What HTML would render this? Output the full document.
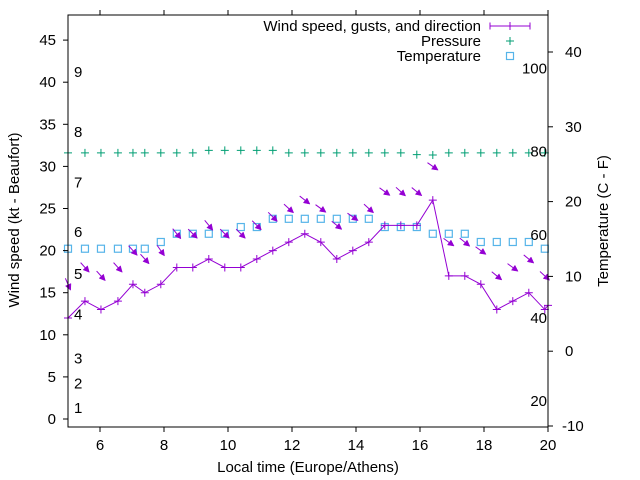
<!DOCTYPE html>
<html><head><meta charset="utf-8"><style>
html,body{margin:0;padding:0;background:#fff;}
svg{display:block;font-family:"Liberation Sans",sans-serif;}
</style></head><body>
<svg id="chart" width="640" height="480" viewBox="0 0 640 480" xmlns="http://www.w3.org/2000/svg">
<rect x="0" y="0" width="640" height="480" fill="#fff"/>
<g id="marks"></g>
<g id="axes"></g>
</svg>
<script>
// ---- data ----
const windTimes = [5,5.53,6.03,6.56,7.03,7.4,7.9,8.4,8.9,9.4,9.9,10.4,10.9,11.4,11.9,12.4,12.9,13.4,13.9,14.4,14.9,15.4,15.9,16.4,16.9,17.4,17.9,18.4,18.9,19.4,19.9,20];
const windSpeed = [12,14,13,14,16,15,16,18,18,19,18,18,19,20,21,22,21,19,20,21,23,23,23,26,17,17,16,13,14,15,13,13.5];
const gustSpeed = [16,18,17,18,20,19,20,22,22,23,22,22,23,24,25,26,25,23,24,25,27,27,27,30,21,21,20,17,18,19,17];
const windDir = [336,318,318,318,318,318,325,321,315,321,315,315,315,315,312,308,306,309,305,312,306,312,309,305,306,309,306,309,306,309,312];
const temperature = [13.7,13.7,13.7,13.7,13.7,13.7,14.6,15.7,15.7,15.7,15.7,16.6,16.6,17.7,17.7,17.7,17.7,17.7,17.7,17.7,16.6,16.6,16.6,15.7,15.7,15.7,14.6,14.6,14.6,14.6,13.7];
const pressure = [31.6,31.6,31.6,31.6,31.6,31.6,31.6,31.6,31.6,31.9,31.9,31.9,31.9,31.9,31.6,31.6,31.6,31.6,31.6,31.6,31.6,31.6,31.4,31.35,31.6,31.6,31.6,31.6,31.6,31.6,31.6];
const xTicks = [6,8,10,12,14,16,18,20];
const yTicks = [0,5,10,15,20,25,30,35,40,45];
const y2Ticks = [-10,0,10,20,30,40];
const beaufortLabels = ["1","2","3","4","5","6","7","8","9"];
const beaufortAt = [1.3,4.2,7.2,12.4,17.2,22.2,28.1,34.1,41.2];
const fahrenheitLabels = [20,40,60,80,100];

// ---- scales ----
const L=68,R=548,T=15,B=427;
const X = t => L + (t-5)*32;
const Y = v => 419 - v*8.42;
const Y2 = c => 426 - (c+10)*7.48;
const F2C = f => (f-32)*5/9;

const NS="http://www.w3.org/2000/svg";
const marks=document.getElementById('marks');
const axes=document.getElementById('axes');
function mk(tag,attrs,parent){const e=document.createElementNS(NS,tag);for(const k in attrs)e.setAttribute(k,attrs[k]);parent.appendChild(e);return e;}
const PURPLE="#9400d3",GREEN="#009e73",CYAN="#56b4e9";

// frame
let frame=mk('rect',{x:L,y:T,width:R-L,height:B-T,fill:'none',stroke:'#000','stroke-width':1},axes);



// x ticks
xTicks.forEach(t=>{
  const x=X(t);
  let tk=mk('path',{d:`M${x} ${B}v5M${x} ${T}v-5`,stroke:'#000'},axes);
  
  
  let tx=mk('text',{x:x,y:450,'font-size':15,'text-anchor':'middle',fill:'#000'},axes);
  tx.textContent=t;
  
  
});
yTicks.forEach(v=>{
  const y=Y(v);
  let tk=mk('path',{d:`M${L} ${y}h-5`,stroke:'#000'},axes);
  
  
  let tx=mk('text',{x:56,y:y+5,'font-size':15,'text-anchor':'end',fill:'#000'},axes);
  tx.textContent=v;
  
  
});
y2Ticks.forEach(v=>{
  const y=Y2(v);
  let tk=mk('path',{d:`M${R} ${y}h5`,stroke:'#000'},axes);
  
  
  let tx=mk('text',{x:(v<0?562:565),y:y+5,'font-size':15,'text-anchor':'start',fill:'#000'},axes);
  tx.textContent=v;
  
  
});
beaufortLabels.forEach((s,i)=>{
  let tx=mk('text',{x:74,y:Y(beaufortAt[i])+5,'font-size':15,fill:'#000'},axes);
  tx.textContent=s;
  
  
});
fahrenheitLabels.forEach(f=>{
  let tx=mk('text',{x:547,y:Y2(F2C(f))+5,'font-size':15,'text-anchor':'end',fill:'#000'},axes);
  tx.textContent=f;
  
  
});
// titles
let xt=mk('text',{x:308,y:472,'font-size':15,'text-anchor':'middle',fill:'#000'},axes);
xt.textContent='Local time (Europe/Athens)';


let yt=mk('text',{x:0,y:0,'font-size':15,'text-anchor':'middle',fill:'#000',transform:'translate(19,220) rotate(-90)'},axes);
yt.textContent='Wind speed (kt - Beaufort)';


let y2t=mk('text',{x:0,y:0,'font-size':15,'text-anchor':'middle',fill:'#000',transform:'translate(608,221) rotate(-90)'},axes);
y2t.textContent='Temperature (C - F)';



function plus(x,y,c,parent){return mk('path',{d:`M${x-4} ${y}h8M${x} ${y-4}v8`,stroke:c,'stroke-width':1,fill:'none'},parent);}

// temperature squares
temperature.forEach((c,i)=>{
  let s=mk('rect',{x:X(windTimes[i])-3.5,y:Y2(c)-3.5,width:7,height:7,fill:'none',stroke:CYAN,'stroke-width':1.2},marks);
  
  
});
// pressure
pressure.forEach((p,i)=>{
  let s=plus(X(windTimes[i]),Y(p),GREEN,marks);
  
  
});
// wind line
let d=windTimes.map((t,i)=>(i?'L':'M')+X(t)+' '+Y(windSpeed[i])).join('');
let wl=mk('path',{d:d,stroke:PURPLE,fill:'none','stroke-width':1},marks);


windSpeed.forEach((v,i)=>{
  let s=plus(X(windTimes[i]),Y(v),PURPLE,marks);
  
  
});
// gust arrows
gustSpeed.forEach((g,i)=>{
  const b=(windDir[i]+180)*Math.PI/180;
  const ux=Math.sin(b), uy=-Math.cos(b), len=13;
  const cx=X(windTimes[i]), cy=Y(g);
  const x1=cx-ux*len/2,y1=cy-uy*len/2,x2=cx+ux*len/2,y2=cy+uy*len/2;
  const hx=x2-ux*6,hy=y2-uy*6,px=-uy*3,py=ux*3;
  let gg=mk('g',{},marks);
  
  
  mk('path',{d:`M${x1} ${y1}L${hx} ${hy}`,stroke:PURPLE,'stroke-width':1},gg);
  mk('path',{d:`M${x2} ${y2}L${hx+px} ${hy+py}L${hx-px} ${hy-py}Z`,fill:PURPLE,stroke:PURPLE,'stroke-width':0.5},gg);
});

// legend
const legend=mk('g',{},axes);


const legendItems=['Wind speed, gusts, and direction','Pressure','Temperature'];
legendItems.forEach((s,i)=>{
  const y=26+i*15;
  let tx=mk('text',{x:481,y:y+5,'font-size':15,'text-anchor':'end',fill:'#000'},legend);
  tx.textContent=s;
  
  
});
mk('path',{d:'M490 26H530M490 22.5v7M530 22.5v7',stroke:PURPLE,'stroke-width':1},legend);
plus(510,26,PURPLE,legend);
plus(510,41,GREEN,legend);
mk('rect',{x:506.5,y:52.5,width:7,height:7,fill:'none',stroke:CYAN,'stroke-width':1.2},legend);
</script>
</body></html>
